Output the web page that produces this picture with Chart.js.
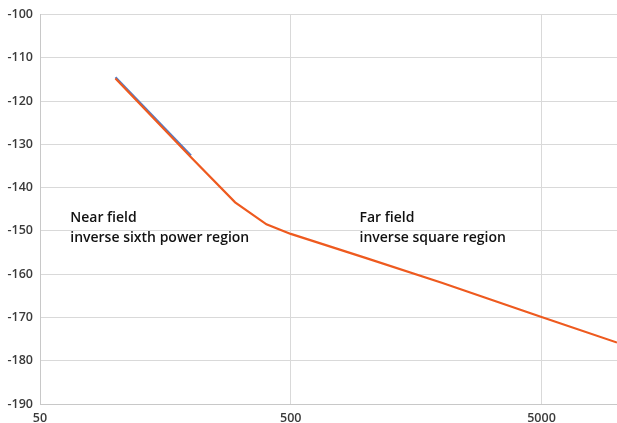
<!DOCTYPE html>
<html>
<head>
<meta charset="utf-8">
<script src="https://cdn.jsdelivr.net/npm/chart.js@4"></script>
<style>
html,body{margin:0;padding:0;background:#fff;}
#c{display:block;}
</style>
</head>
<body>
<canvas id="c" width="617" height="423"></canvas>
<script>
// Distance values (log x-axis)
const nearX = [100, 200];
const nearY = [-114.5, -132.6];
const fullX = [100, 200, 300, 400, 500, 1000, 2000, 5000, 10000];
const fullY = [-114.8, -133.0, -143.4, -148.5, -150.7, -156.3, -162.0, -169.9, -175.8];
const xTicks = [50, 500, 5000];
const xMin = 50, xMax = 10000;
const yMin = -190, yMax = -100, yStep = 10;
const notes = [
  {x: 66, y: -152.5, lines: ['Near field', 'inverse sixth power region']},
  {x: 940, y: -152.5, lines: ['Far field', 'inverse square region']}
];

const toPts = (xs, ys) => xs.map((x, i) => ({x, y: ys[i]}));

const notePlugin = {
  id: 'notes',
  afterDatasetsDraw(chart) {
    const {ctx, scales: {x, y}} = chart;
    ctx.save();
    ctx.fillStyle = '#111';
    ctx.font = '600 14px "Open Sans"';
    ctx.textBaseline = 'alphabetic';
    ctx.textAlign = 'left';
    notes.forEach(n => {
      const px = x.getPixelForValue(n.x);
      const py = y.getPixelForValue(n.y);
      n.lines.forEach((t, i) => ctx.fillText(t, px, py - 20 + i * 20));
    });
    ctx.restore();
  }
};

new Chart(document.getElementById('c'), {
  type: 'line',
  data: {
    datasets: [
      {data: toPts(fullX, fullY), borderColor: '#EE5A1F', borderWidth: 2.2, pointRadius: 0, tension: 0, fill: false},
      {data: toPts(nearX, nearY), borderColor: '#4E7CC9', borderWidth: 2.2, pointRadius: 0, tension: 0, fill: false}
    ]
  },
  options: {
    responsive: false,
    animation: false,
    devicePixelRatio: 1,
    layout: {padding: {top: 8, right: 0, left: 0, bottom: 0}},
    plugins: {legend: {display: false}, tooltip: {enabled: false}},
    scales: {
      x: {
        type: 'logarithmic', min: xMin, max: xMax,
        afterBuildTicks(s) { s.ticks = xTicks.map(v => ({value: v})); },
        afterFit(s) { s.height = 19; },
        grid: {color: '#d9d9d9', lineWidth: 1, drawTicks: false},
        border: {color: '#c8c8c8', width: 1},
        ticks: {color: '#3a3a3a', font: {family: 'Open Sans', size: 12.5, weight: '600'}, padding: 7, maxRotation: 0, autoSkip: false, callback: v => String(v)}
      },
      y: {
        min: yMin, max: yMax,
        afterFit(s) { s.width = 40; },
        grid: {color: '#d9d9d9', lineWidth: 1, drawTicks: false},
        border: {color: '#c8c8c8', width: 1},
        ticks: {stepSize: yStep, color: '#3a3a3a', font: {family: 'Open Sans', size: 12.5, weight: '600'}, padding: 7}
      }
    }
  },
  plugins: [notePlugin]
});
</script>
</body>
</html>
